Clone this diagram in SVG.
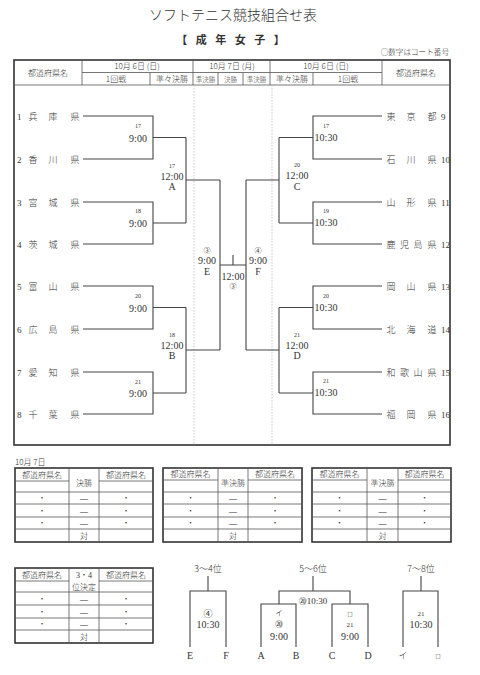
<svg xmlns="http://www.w3.org/2000/svg" width="480" height="675" viewBox="0 0 480 675">
<style>
text{font-family:"Liberation Serif","Noto Sans CJK JP",serif;fill:#333}
.jp{font-family:"Noto Sans CJK JP","Liberation Serif",serif;font-weight:300}
.c{text-anchor:middle}
.ln{stroke:#444;stroke-width:1.1;fill:none}
.fr{stroke:#333;stroke-width:1.6;fill:none}
.th{stroke:#555;stroke-width:0.8;fill:none}
.dash{stroke:#bbb;stroke-width:0.8;stroke-dasharray:1.5,1.5}
.tm{font-size:10px}
.sm{font-size:6px}
.tn{font-size:9px}
.hd{font-size:8px}
.tb{font-size:8px}
</style>

<g id="title">
<text class="jp c" x="233" y="20" font-size="14">ソフトテニス競技組合せ表</text>
<text class="jp c" x="232" y="44" font-size="11" letter-spacing="3" style="font-weight:700">【 成 年 女 子 】</text>
<text class="jp" x="449" y="55" font-size="7.6" text-anchor="end">○数字はコート番号</text>
</g>

<g id="main-frame">
<rect class="fr" x="14" y="60" width="436" height="385"/>
<line class="th" x1="14" y1="85" x2="450" y2="85"/>
<line class="th" x1="82" y1="72.5" x2="382" y2="72.5"/>
<line class="th" x1="82" y1="60" x2="82" y2="85"/>
<line class="th" x1="193" y1="60" x2="193" y2="85"/>
<line class="th" x1="270" y1="60" x2="270" y2="85"/>
<line class="th" x1="382" y1="60" x2="382" y2="85"/>
<line class="th" x1="150" y1="72.5" x2="150" y2="85"/>
<line class="th" x1="218" y1="72.5" x2="218" y2="85"/>
<line class="th" x1="243" y1="72.5" x2="243" y2="85"/>
<line class="th" x1="313" y1="72.5" x2="313" y2="85"/>
<line class="dash" x1="194" y1="85" x2="194" y2="445"/>
<line class="dash" x1="272" y1="85" x2="272" y2="445"/>
<text class="jp c hd" x="48" y="75.5">都道府県名</text>
<text class="jp c hd" x="416" y="75.5">都道府県名</text>
<text class="jp c hd" x="137" y="69">10月 6日 (日)</text>
<text class="jp c hd" x="232" y="69">10月 7日 (月)</text>
<text class="jp c hd" x="326" y="69">10月 6日 (日)</text>
<text class="jp c hd" x="116" y="82">1回戦</text>
<text class="jp c hd" x="172" y="82">準々決勝</text>
<text class="jp c" x="205.5" y="81.5" font-size="6.5">準決勝</text>
<text class="jp c" x="230.5" y="81.5" font-size="6.5">決勝</text>
<text class="jp c" x="256.5" y="81.5" font-size="6.5">準決勝</text>
<text class="jp c hd" x="292" y="82">準々決勝</text>
<text class="jp c hd" x="348" y="82">1回戦</text>
</g>

<g id="connectors">
<path class="ln" d="M83 116H153V159H83 M153 137.5H186 M83 202H153V244H83 M153 223H186 M186 137.5V223 M186 180H220"/>
<path class="ln" d="M83 286H153V329H83 M153 307.5H186 M83 372H153V414H83 M153 393H186 M186 307.5V393 M186 350H220"/>
<path class="ln" d="M220 180V350 M220 265H246 M233 255V265 M246 180V350"/>
<path class="ln" d="M382 116H313V159H382 M313 137.5H279 M382 202H313V244H382 M313 223H279 M279 137.5V223 M279 180H246"/>
<path class="ln" d="M382 286H313V329H382 M313 307.5H279 M382 372H313V414H382 M313 393H279 M279 307.5V393 M279 350H246"/>
</g>

<g id="teams-left" class="jp tn">
<g id="t1"><text x="17" y="119.5">1</text><text class="c" x="33" y="119.5">兵</text><text class="c" x="53" y="119.5">庫</text><text class="c" x="75" y="119.5">県</text></g>
<g id="t2"><text x="17" y="162.5">2</text><text class="c" x="33" y="162.5">香</text><text class="c" x="53" y="162.5">川</text><text class="c" x="75" y="162.5">県</text></g>
<g id="t3"><text x="17" y="205.5">3</text><text class="c" x="33" y="205.5">宮</text><text class="c" x="53" y="205.5">城</text><text class="c" x="75" y="205.5">県</text></g>
<g id="t4"><text x="17" y="247.5">4</text><text class="c" x="33" y="247.5">茨</text><text class="c" x="53" y="247.5">城</text><text class="c" x="75" y="247.5">県</text></g>
<g id="t5"><text x="17" y="289.5">5</text><text class="c" x="33" y="289.5">富</text><text class="c" x="53" y="289.5">山</text><text class="c" x="75" y="289.5">県</text></g>
<g id="t6"><text x="17" y="332.5">6</text><text class="c" x="33" y="332.5">広</text><text class="c" x="53" y="332.5">島</text><text class="c" x="75" y="332.5">県</text></g>
<g id="t7"><text x="17" y="375.5">7</text><text class="c" x="33" y="375.5">愛</text><text class="c" x="53" y="375.5">知</text><text class="c" x="75" y="375.5">県</text></g>
<g id="t8"><text x="17" y="417.5">8</text><text class="c" x="33" y="417.5">千</text><text class="c" x="53" y="417.5">葉</text><text class="c" x="75" y="417.5">県</text></g>
</g>

<g id="teams-right" class="jp tn">
<g id="t9"><text class="c" x="391" y="119.5">東</text><text class="c" x="411" y="119.5">京</text><text class="c" x="432" y="119.5">都</text><text x="441" y="119.5">9</text></g>
<g id="t10"><text class="c" x="391" y="162.5">石</text><text class="c" x="411" y="162.5">川</text><text class="c" x="432" y="162.5">県</text><text x="441" y="162.5">10</text></g>
<g id="t11"><text class="c" x="391" y="205.5">山</text><text class="c" x="411" y="205.5">形</text><text class="c" x="432" y="205.5">県</text><text x="441" y="205.5">11</text></g>
<g id="t12"><text class="c" x="391" y="247.5">鹿</text><text class="c" x="404.5" y="247.5">児</text><text class="c" x="418" y="247.5">島</text><text class="c" x="432" y="247.5">県</text><text x="441" y="247.5">12</text></g>
<g id="t13"><text class="c" x="391" y="289.5">岡</text><text class="c" x="411" y="289.5">山</text><text class="c" x="432" y="289.5">県</text><text x="441" y="289.5">13</text></g>
<g id="t14"><text class="c" x="391" y="332.5">北</text><text class="c" x="411" y="332.5">海</text><text class="c" x="432" y="332.5">道</text><text x="441" y="332.5">14</text></g>
<g id="t15"><text class="c" x="391" y="375.5">和</text><text class="c" x="404.5" y="375.5">歌</text><text class="c" x="418" y="375.5">山</text><text class="c" x="432" y="375.5">県</text><text x="441" y="375.5">15</text></g>
<g id="t16"><text class="c" x="391" y="417.5">福</text><text class="c" x="411" y="417.5">岡</text><text class="c" x="432" y="417.5">県</text><text x="441" y="417.5">16</text></g>
</g>

<g id="matches">
<g id="m1"><text class="c sm" x="138" y="127.5">17</text><text class="c tm" x="138" y="141.5">9:00</text></g>
<g id="m2"><text class="c sm" x="138" y="213">18</text><text class="c tm" x="138" y="226.5">9:00</text></g>
<g id="m3"><text class="c sm" x="138" y="298">20</text><text class="c tm" x="138" y="311.5">9:00</text></g>
<g id="m4"><text class="c sm" x="138" y="384">21</text><text class="c tm" x="138" y="396.5">9:00</text></g>
<g id="mA"><text class="c sm" x="172" y="168">17</text><text class="c tm" x="172" y="179.5">12:00</text><text class="c tm" x="172" y="190">A</text></g>
<g id="mB"><text class="c sm" x="172" y="337">18</text><text class="c tm" x="172" y="349">12:00</text><text class="c tm" x="172" y="359">B</text></g>
<g id="m5"><text class="c sm" x="326" y="128">17</text><text class="c tm" x="326" y="140.5">10:30</text></g>
<g id="m6"><text class="c sm" x="326" y="213">19</text><text class="c tm" x="326" y="225.5">10:30</text></g>
<g id="m7"><text class="c sm" x="326" y="298">20</text><text class="c tm" x="326" y="310.5">10:30</text></g>
<g id="m8"><text class="c sm" x="326" y="383">21</text><text class="c tm" x="326" y="395.5">10:30</text></g>
<g id="mC"><text class="c sm" x="297" y="167">20</text><text class="c tm" x="297" y="178.5">12:00</text><text class="c tm" x="297" y="190">C</text></g>
<g id="mD"><text class="c sm" x="297" y="337">21</text><text class="c tm" x="297" y="349">12:00</text><text class="c tm" x="297" y="359">D</text></g>
<g id="mE"><text class="c" x="207" y="252.5" font-size="7">③</text><text class="c tm" x="207" y="263.5">9:00</text><text class="c tm" x="207" y="274.5">E</text></g>
<g id="mF"><text class="c" x="258" y="252.5" font-size="7">④</text><text class="c tm" x="258" y="263.5">9:00</text><text class="c tm" x="258" y="274.5">F</text></g>
<g id="mFinal"><text class="c tm" x="233" y="279.5">12:00</text><text class="c" x="233" y="288.5" font-size="7">③</text></g>
</g>

<g id="bottom-date"><text class="jp" x="15" y="465" font-size="8">10月 7日</text></g>

<g id="table-final" class="jp tb">
<rect class="fr" x="15" y="468" width="138" height="74"/>
<path class="th" d="M69 468V542 M99 468V542 M15 481H69 M99 481H153 M15 492H153 M15 504H153 M15 517H153 M15 529H153"/>
<text class="c" x="42" y="477.5">都道府県名</text><text class="c" x="126" y="477.5">都道府県名</text>
<text class="c" x="84" y="486">決勝</text>
<text class="c" x="42" y="501">・</text><text class="c" x="84" y="501">—</text><text class="c" x="126" y="501">・</text>
<text class="c" x="42" y="513.5">・</text><text class="c" x="84" y="513.5">—</text><text class="c" x="126" y="513.5">・</text>
<text class="c" x="42" y="526">・</text><text class="c" x="84" y="526">—</text><text class="c" x="126" y="526">・</text>
<text class="c" x="84" y="538.5">対</text>
</g>

<g id="table-sf1" class="jp tb">
<rect class="fr" x="163" y="468" width="139" height="74"/>
<path class="th" d="M218 468V542 M248 468V542 M163 480H218 M248 480H302 M163 492H302 M163 504H302 M163 517H302 M163 529H302"/>
<text class="c" x="190.5" y="477">都道府県名</text><text class="c" x="275" y="477">都道府県名</text>
<text class="c" x="233" y="486">準決勝</text>
<text class="c" x="190.5" y="501">・</text><text class="c" x="233" y="501">—</text><text class="c" x="275" y="501">・</text>
<text class="c" x="190.5" y="513.5">・</text><text class="c" x="233" y="513.5">—</text><text class="c" x="275" y="513.5">・</text>
<text class="c" x="190.5" y="526">・</text><text class="c" x="233" y="526">—</text><text class="c" x="275" y="526">・</text>
<text class="c" x="233" y="538.5">対</text>
</g>

<g id="table-sf2" class="jp tb">
<rect class="fr" x="312" y="468" width="139" height="74"/>
<path class="th" d="M367 468V542 M398 468V542 M312 480H367 M398 480H451 M312 492H451 M312 504H451 M312 517H451 M312 529H451"/>
<text class="c" x="339.5" y="477">都道府県名</text><text class="c" x="424.5" y="477">都道府県名</text>
<text class="c" x="382.5" y="486">準決勝</text>
<text class="c" x="339.5" y="501">・</text><text class="c" x="382.5" y="501">—</text><text class="c" x="424.5" y="501">・</text>
<text class="c" x="339.5" y="513.5">・</text><text class="c" x="382.5" y="513.5">—</text><text class="c" x="424.5" y="513.5">・</text>
<text class="c" x="339.5" y="526">・</text><text class="c" x="382.5" y="526">—</text><text class="c" x="424.5" y="526">・</text>
<text class="c" x="382.5" y="538.5">対</text>
</g>

<g id="table-34" class="jp tb">
<rect class="fr" x="15" y="568" width="138" height="75"/>
<path class="th" d="M69 568V643 M99 568V643 M15 581H69 M99 581H153 M15 592H153 M15 605H153 M15 618H153 M15 630H153"/>
<text class="c" x="42" y="577.5">都道府県名</text><text class="c" x="126" y="577.5">都道府県名</text>
<text class="c" x="84" y="578">3・4</text>
<text class="c" x="84" y="590">位決定</text>
<text class="c" x="42" y="601.5">・</text><text class="c" x="84" y="601.5">—</text><text class="c" x="126" y="601.5">・</text>
<text class="c" x="42" y="614.5">・</text><text class="c" x="84" y="614.5">—</text><text class="c" x="126" y="614.5">・</text>
<text class="c" x="42" y="627">・</text><text class="c" x="84" y="627">—</text><text class="c" x="126" y="627">・</text>
<text class="c" x="84" y="639.5">対</text>
</g>

<g id="placement-connectors">
<path class="ln" d="M208 576V591 M190 647V591H226V647"/>
<path class="ln" d="M313 576V591 M279 604V591H350V604 M261 647V604H296V647 M332 647V604H368V647"/>
<path class="ln" d="M421 576V591 M403 647V591H438V647"/>
</g>

<g id="place-34" class="tm">
<text class="jp c" x="208" y="571.5" font-size="9">3～4位</text>
<text class="c" x="208" y="616.5" font-size="9">④</text>
<text class="c" x="208" y="627.5">10:30</text>
<text class="c" x="190" y="659">E</text><text class="c" x="226" y="659">F</text>
</g>
<g id="place-56" class="tm">
<text class="jp c" x="313" y="571.5" font-size="9">5～6位</text>
<text class="c" x="313" y="603.5" font-size="9"><tspan font-size="8">⑳</tspan>10:30</text>
<text class="jp c" x="279" y="616" font-size="8">イ</text>
<text class="c" x="279" y="627" font-size="8">⑳</text>
<text class="c" x="279" y="639.5">9:00</text>
<text class="jp c" x="350" y="615.5" font-size="6">ロ</text>
<text class="c" x="350" y="627" font-size="7">21</text>
<text class="c" x="350" y="639.5">9:00</text>
<text class="c" x="261" y="659">A</text><text class="c" x="296" y="659">B</text>
<text class="c" x="332" y="659">C</text><text class="c" x="368" y="659">D</text>
</g>
<g id="place-78" class="tm">
<text class="jp c" x="421" y="571.5" font-size="9">7～8位</text>
<text class="c" x="421" y="615.5" font-size="7">21</text>
<text class="c" x="421" y="627.5">10:30</text>
<text class="jp c" x="403" y="659" font-size="9">イ</text><text class="jp c" x="438" y="658" font-size="6">ロ</text>
</g>
</svg>
